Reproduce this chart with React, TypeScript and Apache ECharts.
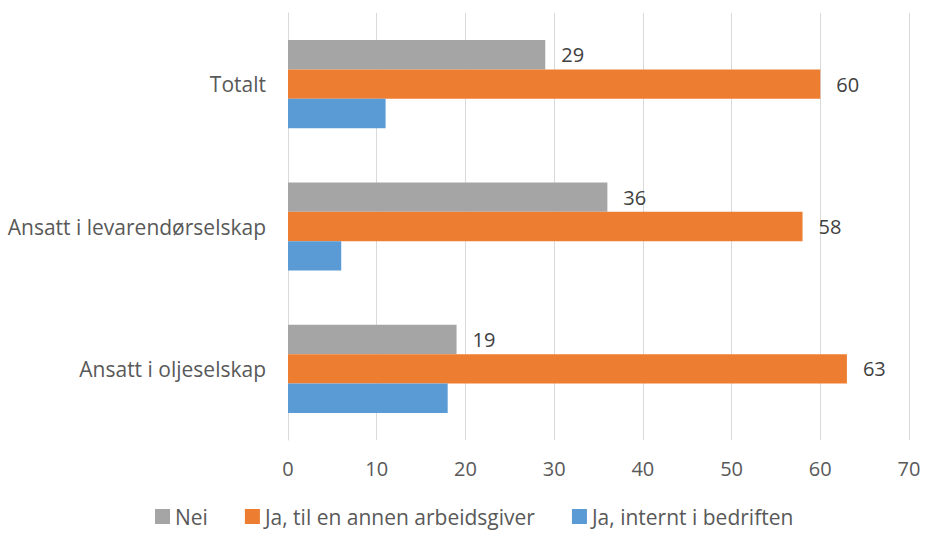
import React, { useEffect, useRef } from "react";
import * as echarts from "echarts";

const categories = ["Ansatt i oljeselskap", "Ansatt i levarendørselskap", "Totalt"];
const neiValues = [19, 36, 29];
const annenValues = [63, 58, 60];
const interntValues = [18, 6, 11];
const seriesNames = ["Nei", "Ja, til en annen arbeidsgiver", "Ja, internt i bedriften"];

const FONT = "'Open Sans', sans-serif";
const FS = 20;

export default function App() {
  const ref = useRef<HTMLDivElement>(null);
  useEffect(() => {
    document.body.style.margin = "0";
    if (!ref.current) return;
    const chart = echarts.init(ref.current, null, { renderer: "svg" });
    const label = {
      show: true,
      position: "right",
      distance: 16,
      color: "#404040",
      fontSize: FS,
      fontFamily: FONT,
    };
    chart.setOption({
      animation: false,
      textStyle: { fontFamily: FONT },
      grid: { left: 288, right: 16, top: 13, bottom: 95, containLabel: false },
      legend: {
        bottom: 3,
        left: 150,
        data: seriesNames,
        icon: "rect",
        itemWidth: 15,
        itemHeight: 15,
        itemGap: 37,
        textStyle: { color: "#595959", fontSize: 21, fontFamily: FONT },
        selectedMode: false,
      },
      xAxis: {
        type: "value",
        min: 0,
        max: 70,
        interval: 10,
        axisLine: { show: false },
        axisTick: { show: false },
        splitLine: { lineStyle: { color: "#D9D9D9", width: 1 } },
        axisLabel: { color: "#595959", fontSize: FS, margin: 18, fontFamily: FONT },
      },
      yAxis: {
        type: "category",
        data: categories,
        axisLine: { show: true, lineStyle: { color: "#D9D9D9" } },
        axisTick: { show: false },
        axisLabel: { color: "#595959", fontSize: 21, margin: 22, fontFamily: FONT },
      },
      series: [
        {
          name: seriesNames[0],
          type: "bar",
          data: neiValues,
          itemStyle: { color: "#A5A5A5" },
          label,
          barGap: "0%",
          barCategoryGap: "38%",
        },
        {
          name: seriesNames[1],
          type: "bar",
          data: annenValues,
          itemStyle: { color: "#ED7D31" },
          label,
          barGap: "0%",
          barCategoryGap: "38%",
        },
        {
          name: seriesNames[2],
          type: "bar",
          data: interntValues,
          itemStyle: { color: "#5B9BD5" },
          barGap: "0%",
          barCategoryGap: "38%",
        },
      ],
    });
    return () => chart.dispose();
  }, []);
  return <div ref={ref} style={{ width: 925, height: 535 }} />;
}
